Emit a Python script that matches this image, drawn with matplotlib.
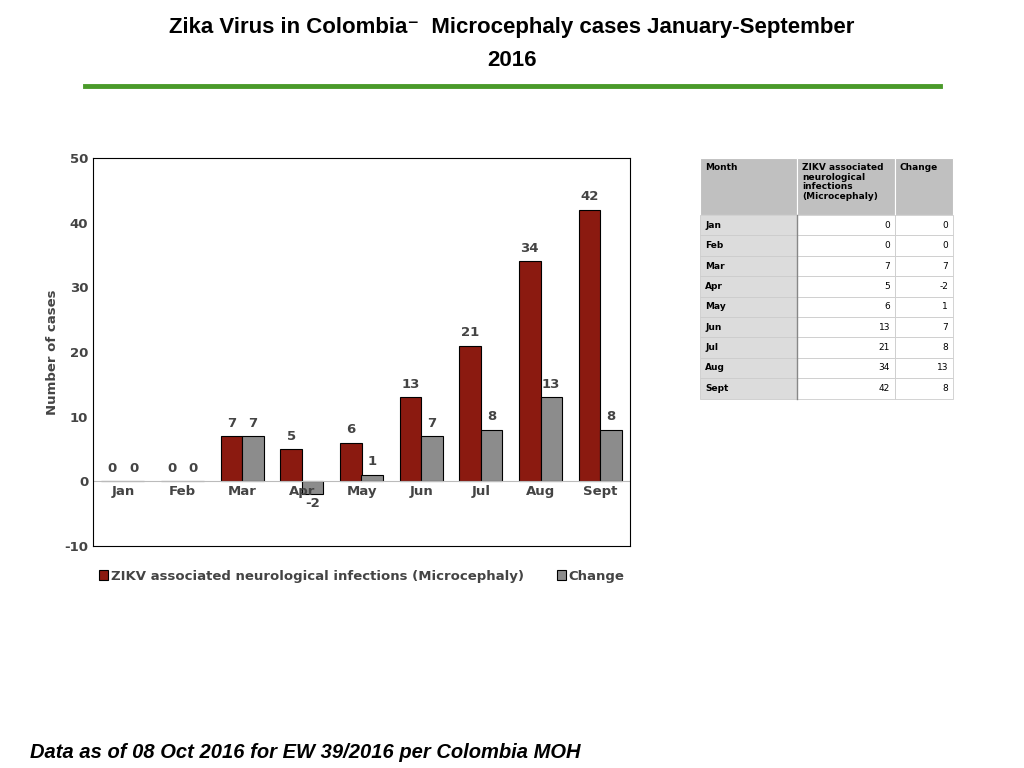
import matplotlib
matplotlib.use("Agg")
import matplotlib.pyplot as plt
import numpy as np
plt.rcParams['axes.unicode_minus'] = False

months = ["Jan","Feb","Mar","Apr","May","Jun","Jul","Aug","Sept"]
cases = [0,0,7,5,6,13,21,34,42]
change = [0,0,7,-2,1,7,8,13,8]
series_names = ["ZIKV associated neurological infections (Microcephaly)", "Change"]

fig = plt.figure(figsize=(10.24,7.68), dpi=100)
fig.patch.set_facecolor("white")
fam = ["Liberation Sans", "DejaVu Sans"]
fig.text(0.5, 1-28/768, "Zika Virus in Colombia\u207b  Microcephaly cases January-September", ha="center", va="center", fontsize=16, fontweight="bold", family=fam)
fig.text(0.5, 1-60/768, "2016", ha="center", va="center", fontsize=16, fontweight="bold", family=fam)
fig.add_artist(plt.Line2D([85/1024, 940/1024], [1-86/768]*2, color="#4a9a2a", lw=3.5))
fig.text(30/1024, 1-752/768, "Data as of 08 Oct 2016 for EW 39/2016 per Colombia MOH", ha="left", va="center", fontsize=14.5, fontweight="bold", style="italic", family=fam)

ax = fig.add_axes([93/1024, 1-546/768, 537/1024, 388/768])
x = np.arange(len(months))
w = 0.36
ax.bar(x-w/2, cases, w, color="#8B1A10", edgecolor="black", lw=0.8, label=series_names[0])
ax.bar(x+w/2, change, w, color="#8C8C8C", edgecolor="black", lw=0.8, label=series_names[1])
for xi, v in zip(x-w/2, cases):
    ax.text(xi, v+1, str(v), ha="center", va="bottom", fontsize=9.5, fontweight="bold", color="#444")
for xi, v in zip(x+w/2, change):
    ax.text(xi, v+1 if v >= 0 else v-0.4, str(v), ha="center", va="bottom" if v >= 0 else "top", fontsize=9.5, fontweight="bold", color="#444")
ax.set_ylim(-10, 50)
ax.set_xlim(-0.5, len(months)-0.5)
ax.set_yticks(range(-10, 51, 10))
ax.axhline(0, color="#bbb", lw=0.8)
ax.set_xticks([])
for xi, m in zip(x, months):
    ax.text(xi, -1.6, m, ha="center", va="center", fontsize=9.5, fontweight="bold", color="#444")
ax.tick_params(axis="y", length=0, labelsize=9.5, labelcolor="#444")
for t in ax.get_yticklabels():
    t.set_fontweight("bold")
ax.set_ylabel("Number of cases", fontsize=9.5, fontweight="bold", color="#444")
for s in ax.spines.values():
    s.set_linewidth(0.8)
ax.legend(loc="upper center", bbox_to_anchor=(0.5, -0.03), ncol=2, frameon=False, handlelength=0.7, handleheight=0.7, columnspacing=2.5, handletextpad=0.2, prop={"weight": "bold", "size": 9.5})
for t in ax.get_legend().get_texts():
    t.set_color("#444")

tx = [700, 797, 895, 953]
top = 158; hdr = 57; rh = 20.4
def fy(p): return 1-p/768
header = ["Month", "ZIKV associated\nneurological\ninfections\n(Microcephaly)", "Change"]
for i in range(3):
    fig.add_artist(plt.Rectangle((tx[i]/1024, fy(top+hdr)), (tx[i+1]-tx[i])/1024, hdr/768, facecolor="#c0c0c0", edgecolor="white", lw=0.8))
    fig.text((tx[i]+5)/1024, fy(top+5), header[i], ha="left", va="top", fontsize=6.5, fontweight="bold", linespacing=1.1)
for r, m in enumerate(months):
    y0 = top+hdr+r*rh
    cols = ["#dcdcdc", "white", "white"]
    vals = [m, str(cases[r]), str(change[r])]
    for i in range(3):
        fig.add_artist(plt.Rectangle((tx[i]/1024, fy(y0+rh)), (tx[i+1]-tx[i])/1024, rh/768, facecolor=cols[i], edgecolor="#cccccc", lw=0.6))
        if i == 0:
            fig.text((tx[i]+5)/1024, fy(y0+rh/2), vals[i], ha="left", va="center", fontsize=6.5, fontweight="bold")
        else:
            fig.text((tx[i+1]-5)/1024, fy(y0+rh/2), vals[i], ha="right", va="center", fontsize=6.5)
fig.add_artist(plt.Line2D([797/1024]*2, [fy(top+hdr), fy(top+hdr+9*rh)], color="#888", lw=1))

fig.savefig("out.png", dpi=100)
